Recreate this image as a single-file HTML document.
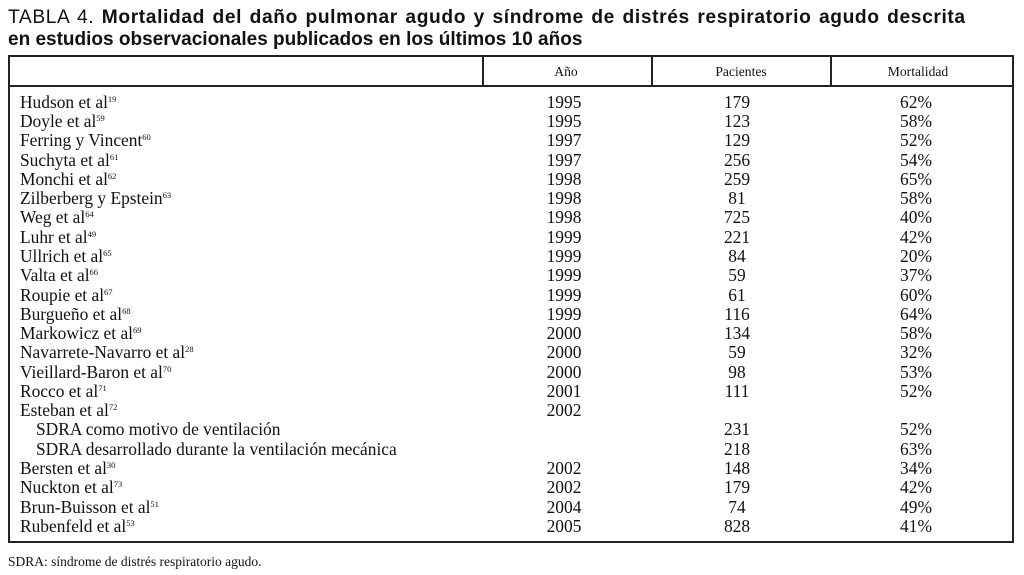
<!DOCTYPE html>
<html>
<head>
<meta charset="utf-8">
<style>
html,body{margin:0;padding:0;background:#fff;}
body{width:1024px;height:575px;position:relative;overflow:hidden;color:#111;}
.title{position:absolute;left:8px;font-family:"Liberation Sans",sans-serif;font-size:19.2px;line-height:22px;white-space:nowrap;}
.t1{top:7px;letter-spacing:0.62px;word-spacing:1.6px;}
.t2{top:29px;font-size:19px;}
.title b{font-weight:bold;}
.box{position:absolute;left:8px;top:55px;width:1002px;height:484px;border:2.2px solid #222;}
.hline{position:absolute;left:8px;width:1006px;height:2px;background:#222;top:85px;}
.vline{position:absolute;top:56px;height:30px;width:2px;background:#222;}
.hd{position:absolute;top:63px;font-family:"Liberation Serif",serif;font-size:13.6px;line-height:18px;text-align:center;width:200px;}
.row{position:absolute;left:0;width:1024px;height:19.27px;line-height:19.27px;font-family:"Liberation Serif",serif;font-size:17.4px;white-space:nowrap;}
.row .n{position:absolute;left:20px;}
.row .n.i{left:36px;}
.row .c{position:absolute;width:120px;text-align:center;}
.y{left:504px;}
.p{left:677px;}
.m{left:856px;}
sup{font-size:8.5px;line-height:0;position:relative;vertical-align:6px;}
.foot{position:absolute;left:8px;top:553px;font-family:"Liberation Serif",serif;font-size:13.5px;line-height:18px;}
</style>
</head>
<body>
<div class="title t1">TABLA 4. <b>Mortalidad del daño pulmonar agudo y síndrome de distrés respiratorio agudo descrita</b></div>
<div class="title t2"><b>en estudios observacionales publicados en los últimos 10 años</b></div>
<div class="box"></div>
<div class="hline"></div>
<div class="vline" style="left:482px"></div>
<div class="vline" style="left:651px"></div>
<div class="vline" style="left:830px"></div>
<div class="hd" style="left:466px">Año</div>
<div class="hd" style="left:641px">Pacientes</div>
<div class="hd" style="left:818px">Mortalidad</div>

<div class="row" style="top:92.8px"><span class="n">Hudson et al<sup>19</sup></span><span class="c y">1995</span><span class="c p">179</span><span class="c m">62%</span></div>
<div class="row" style="top:112.1px"><span class="n">Doyle et al<sup>59</sup></span><span class="c y">1995</span><span class="c p">123</span><span class="c m">58%</span></div>
<div class="row" style="top:131.3px"><span class="n">Ferring y Vincent<sup>60</sup></span><span class="c y">1997</span><span class="c p">129</span><span class="c m">52%</span></div>
<div class="row" style="top:150.6px"><span class="n">Suchyta et al<sup>61</sup></span><span class="c y">1997</span><span class="c p">256</span><span class="c m">54%</span></div>
<div class="row" style="top:169.9px"><span class="n">Monchi et al<sup>62</sup></span><span class="c y">1998</span><span class="c p">259</span><span class="c m">65%</span></div>
<div class="row" style="top:189.2px"><span class="n">Zilberberg y Epstein<sup>63</sup></span><span class="c y">1998</span><span class="c p">81</span><span class="c m">58%</span></div>
<div class="row" style="top:208.4px"><span class="n">Weg et al<sup>64</sup></span><span class="c y">1998</span><span class="c p">725</span><span class="c m">40%</span></div>
<div class="row" style="top:227.7px"><span class="n">Luhr et al<sup>49</sup></span><span class="c y">1999</span><span class="c p">221</span><span class="c m">42%</span></div>
<div class="row" style="top:247.0px"><span class="n">Ullrich et al<sup>65</sup></span><span class="c y">1999</span><span class="c p">84</span><span class="c m">20%</span></div>
<div class="row" style="top:266.2px"><span class="n">Valta et al<sup>66</sup></span><span class="c y">1999</span><span class="c p">59</span><span class="c m">37%</span></div>
<div class="row" style="top:285.5px"><span class="n">Roupie et al<sup>67</sup></span><span class="c y">1999</span><span class="c p">61</span><span class="c m">60%</span></div>
<div class="row" style="top:304.8px"><span class="n">Burgueño et al<sup>68</sup></span><span class="c y">1999</span><span class="c p">116</span><span class="c m">64%</span></div>
<div class="row" style="top:324.0px"><span class="n">Markowicz et al<sup>69</sup></span><span class="c y">2000</span><span class="c p">134</span><span class="c m">58%</span></div>
<div class="row" style="top:343.3px"><span class="n">Navarrete-Navarro et al<sup>28</sup></span><span class="c y">2000</span><span class="c p">59</span><span class="c m">32%</span></div>
<div class="row" style="top:362.6px"><span class="n">Vieillard-Baron et al<sup>70</sup></span><span class="c y">2000</span><span class="c p">98</span><span class="c m">53%</span></div>
<div class="row" style="top:381.8px"><span class="n">Rocco et al<sup>71</sup></span><span class="c y">2001</span><span class="c p">111</span><span class="c m">52%</span></div>
<div class="row" style="top:401.1px"><span class="n">Esteban et al<sup>72</sup></span><span class="c y">2002</span></div>
<div class="row" style="top:420.4px"><span class="n i">SDRA como motivo de ventilación</span><span class="c p">231</span><span class="c m">52%</span></div>
<div class="row" style="top:439.6px"><span class="n i">SDRA desarrollado durante la ventilación mecánica</span><span class="c p">218</span><span class="c m">63%</span></div>
<div class="row" style="top:458.9px"><span class="n">Bersten et al<sup>30</sup></span><span class="c y">2002</span><span class="c p">148</span><span class="c m">34%</span></div>
<div class="row" style="top:478.2px"><span class="n">Nuckton et al<sup>73</sup></span><span class="c y">2002</span><span class="c p">179</span><span class="c m">42%</span></div>
<div class="row" style="top:497.5px"><span class="n">Brun-Buisson et al<sup>51</sup></span><span class="c y">2004</span><span class="c p">74</span><span class="c m">49%</span></div>
<div class="row" style="top:516.7px"><span class="n">Rubenfeld et al<sup>53</sup></span><span class="c y">2005</span><span class="c p">828</span><span class="c m">41%</span></div>

<div class="foot">SDRA: síndrome de distrés respiratorio agudo.</div>
</body>
</html>
